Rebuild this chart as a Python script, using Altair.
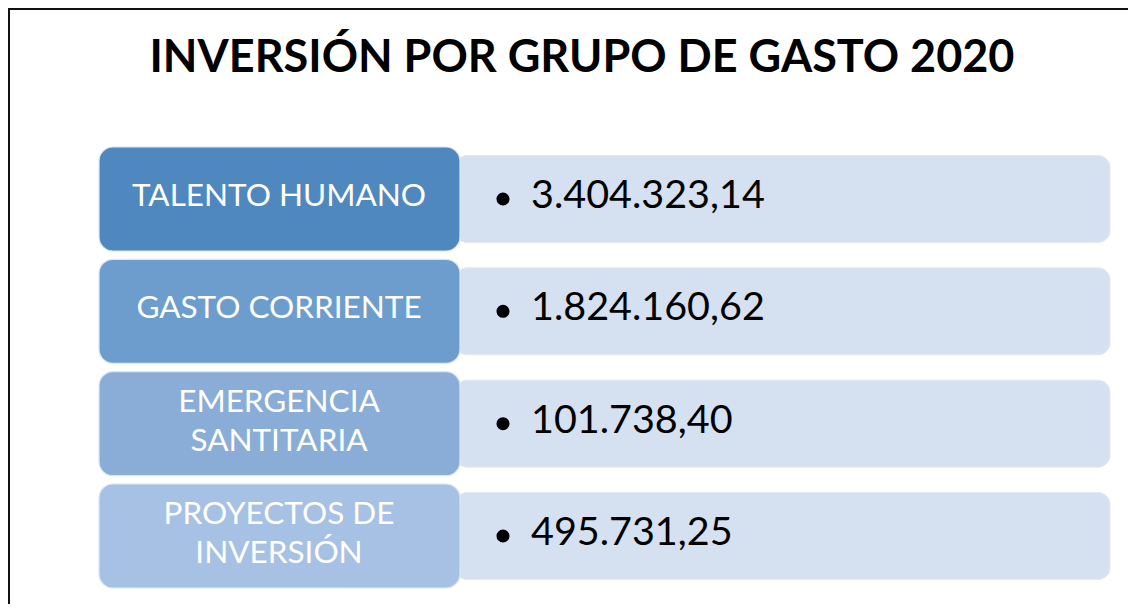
import altair as alt
import pandas as pd

title_text = "INVERSIÓN POR GRUPO DE GASTO 2020"
categories = ["TALENTO HUMANO", "GASTO CORRIENTE", "EMERGENCIA\nSANTITARIA", "PROYECTOS DE\nINVERSIÓN"]
amounts = [3404323.14, 1824160.62, 101738.40, 495731.25]


def fmt_es(v):
    s = f"{v:,.2f}"
    return s.replace(",", "X").replace(".", ",").replace("X", ".")


df = pd.DataFrame({
    "cat": categories,
    "amount": amounts,
    "label": [fmt_es(v) for v in amounts],
    "multi": ["\n" in c for c in categories],
})

W, H = 1120, 596
left_colors = ["#4F88BF", "#6C9DCC", "#89ADD7", "#A6C1E3"]

yscale = alt.Scale(domain=categories, range=[139, 580], paddingInner=0.0742, paddingOuter=0)
Y = alt.Y("cat:N", scale=yscale, axis=None)

base = alt.Chart(df)

right_box = base.mark_bar(height=87, cornerRadius=12, color="#D5E0F0", stroke="#E3EAF5", strokeWidth=1).encode(
    y=Y, x=alt.value(447), x2=alt.value(1102)
)

left_box = base.mark_bar(cornerRadius=14, stroke="#DDE6F2", strokeWidth=1.2).encode(
    y=Y, x=alt.value(91), x2=alt.value(452),
    color=alt.Color("cat:N", scale=alt.Scale(domain=categories, range=left_colors), legend=None),
)

text_style = dict(font="Lato", fontSize=31.5, color="white", align="center", baseline="middle",
                  lineBreak="\n", lineHeight=39)

left_text_single = base.transform_filter("!datum.multi").mark_text(**text_style, dy=-2).encode(
    y=Y, x=alt.value(271), text="cat:N"
)
left_text_multi = base.transform_filter("datum.multi").mark_text(**text_style, dy=-21).encode(
    y=Y, x=alt.value(271), text="cat:N"
)

bullet = base.mark_point(shape="circle", filled=True, size=170, color="black", opacity=1).encode(
    y=Y, x=alt.value(495)
)

value_text = base.mark_text(
    font="Lato", fontSize=39.5, color="black", align="left", baseline="middle", dy=-3,
).encode(y=Y, x=alt.value(523), text="label:N")

title = alt.Chart(pd.DataFrame({"t": [title_text]})).mark_text(
    font="Lato", fontSize=45, fontWeight="bold", color="black", align="center", baseline="middle",
).encode(x=alt.value(574), y=alt.value(50), text="t:N")

frame_top = alt.Chart(pd.DataFrame({"t": [0]})).mark_rule(color="#111111", strokeWidth=2).encode(
    x=alt.value(0), x2=alt.value(W), y=alt.value(1)
)
frame_left = alt.Chart(pd.DataFrame({"t": [0]})).mark_rule(color="#111111", strokeWidth=2).encode(
    x=alt.value(1), y=alt.value(0), y2=alt.value(H)
)

chart = alt.layer(
    frame_top, frame_left, title, right_box, left_box,
    left_text_single, left_text_multi, bullet, value_text
).properties(
    width=W, height=H, padding=0, autosize="none", background="white"
).configure_view(stroke=None)

chart.save("out.html", embed_options={"renderer": "svg", "actions": False})
